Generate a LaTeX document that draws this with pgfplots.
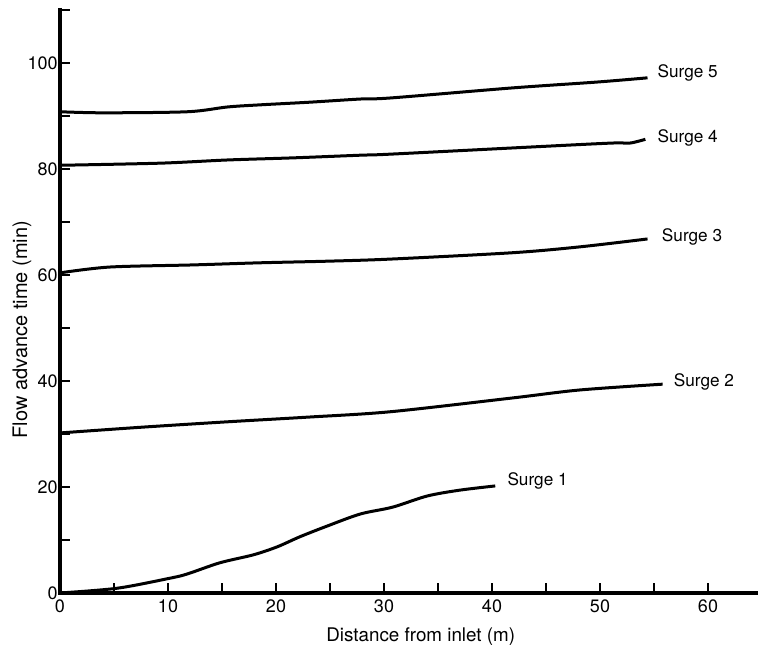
\documentclass[border=0pt]{standalone}
\usepackage{fontspec}
\setmainfont{TeX Gyre Heros}
\usepackage{pgfplots}
\pgfplotsset{compat=1.18}
\newcommand{\tickfont}{\fontsize{9}{10}\selectfont}
\newcommand{\surgefont}{\fontsize{8.6}{10}\selectfont}

\begin{document}
\begin{tikzpicture}
\useasboundingbox (-30pt,-29pt) rectangle (349pt,296.5pt);
\begin{axis}[
    at={(0,0)}, anchor=south west,
    x=5.4pt, y=2.65pt,
    xmin=0, xmax=64.6,
    ymin=0, ymax=110.4,
    axis x line=bottom,
    axis y line=left,
    axis line style={-, line width=1.8pt},
    tick align=inside,
    xtick={0,10,...,60},
    minor xtick={5,15,...,55},
    ytick={0,20,...,100},
    minor ytick={10,30,...,110},
    major tick length=5pt,
    minor tick length=5pt,
    every major tick/.append style={black, line width=1.3pt},
    every minor tick/.append style={black, line width=1.3pt},
    tick label style={font=\tickfont},
    yticklabel style={inner xsep=1pt},
    /pgf/number format/assume math mode=true,
    xlabel={Distance from inlet (m)},
    ylabel={Flow advance time (min)},
    xlabel style={at={(axis description cs:0.517,-0.075)}, anchor=center,
        font=\fontsize{9.4}{11}\selectfont},
    ylabel style={at={(axis description cs:-0.0545,0.45)}, anchor=center,
        font=\fontsize{10}{12}\selectfont},
    clip=false,
]

% heavier hand-drawn axis lines
\draw[line width=1.8pt] (axis cs:0,110.4) -- (axis cs:0,0) -- (axis cs:64.6,0);

% Surge 1
\addplot[black, line width=1.5pt, smooth, tension=0.5] coordinates {
    (0,0) (5.3,0.9) (10.2,2.8) (11.8,3.6) (14.8,5.7) (17.9,7.2) (20.1,8.7)
    (22.2,10.6) (24.7,12.6) (27.8,14.9) (30.8,16.2) (34.0,18.3) (37.0,19.4)
    (40.3,20.2)
};
% Surge 2
\addplot[black, line width=1.5pt, smooth, tension=0.5] coordinates {
    (0,30.2) (7.7,31.3) (15.5,32.3) (23.1,33.2) (30.6,34.2) (41.9,36.8)
    (48.1,38.3) (55.8,39.4)
};
% Surge 3
\addplot[black, line width=1.5pt, smooth, tension=0.5] coordinates {
    (0,60.4) (4.6,61.5) (12.3,61.9) (18.5,62.3) (24.7,62.6) (30.6,63.0)
    (41.9,64.2) (48.1,65.3) (54.4,66.8)
};
% Surge 4
\addplot[black, line width=1.5pt, smooth, tension=0.5] coordinates {
    (0,80.7) (9.3,81.1) (15.5,81.7) (21.6,82.1) (27.8,82.6) (30.6,82.8)
    (45.1,84.3) (51.2,84.9) (52.8,84.9) (54.2,85.6)
};
% Surge 5
\addplot[black, line width=1.5pt, smooth, tension=0.5] coordinates {
    (0,90.8) (4.0,90.6) (11.8,90.8) (15.5,91.7) (18.5,92.1) (23.1,92.6)
    (27.8,93.2) (30.6,93.4) (41.9,95.3) (49.7,96.4) (54.4,97.2)
};

\node[anchor=west, font=\surgefont, inner sep=0pt] at (axis cs:55.3,98.1) {Surge 5};
\node[anchor=west, font=\surgefont, inner sep=0pt] at (axis cs:55.3,85.8) {Surge 4};
\node[anchor=west, font=\surgefont, inner sep=0pt] at (axis cs:55.7,67.2) {Surge 3};
\node[anchor=west, font=\surgefont, inner sep=0pt] at (axis cs:56.8,39.8) {Surge 2};
\node[anchor=west, font=\surgefont, inner sep=0pt] at (axis cs:41.4,21.1) {Surge 1};

\end{axis}
\end{tikzpicture}
\end{document}
